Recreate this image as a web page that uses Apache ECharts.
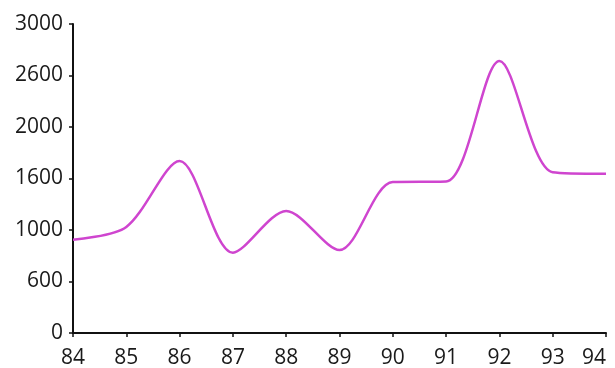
<!DOCTYPE html>
<html>
<head>
<meta charset="utf-8">
<script src="https://cdn.jsdelivr.net/npm/echarts@6/dist/echarts.min.js"></script>
<style>
  html, body { margin: 0; padding: 0; background: #fff; }
  #main { width: 615px; height: 368px; }
</style>
</head>
<body>
<div id="main"></div>
<script>
// years on the x axis
const years = [84, 85, 86, 87, 88, 89, 90, 91, 92, 93, 94]
// values
const values = [905, 1030, 1670, 780, 1185, 805, 1465, 1470, 2640, 1560, 1545]
// printed y tick labels (evenly spaced in the source)
const yLabels = ['0', '600', '1000', '1600', '2000', '2600', '3000']

const chart = echarts.init(document.getElementById('main'))

const axisFont = {
    fontFamily: 'Open Sans',
    fontSize: 21,
    color: '#1a1a1a'
}

chart.setOption({
    animation: false,
    grid: { left: 73, right: 9, top: 24, bottom: 35, outerBoundsMode: 'none' },
    xAxis: {
        type: 'value',
        min: 84,
        max: 94,
        interval: 1,
        axisLine: { lineStyle: { color: '#111', width: 2 } },
        axisTick: { length: 4, lineStyle: { color: '#111', width: 1.5 } },
        axisLabel: Object.assign({ margin: 15, alignMaxLabel: 'right' }, axisFont),
        splitLine: { show: false }
    },
    yAxis: {
        type: 'value',
        min: 0,
        max: 3000,
        interval: 500,
        axisLine: { show: true, lineStyle: { color: '#111', width: 2 } },
        axisTick: { show: true, length: 4, lineStyle: { color: '#111', width: 1.5 } },
        axisLabel: Object.assign({
            margin: 10,
            formatter: (v) => yLabels[Math.round(v / 500)]
        }, axisFont),
        splitLine: { show: false }
    },
    series: [
        {
            type: 'line',
            data: years.map((y, i) => [y, values[i]]),
            smooth: 0.3,
            showSymbol: false,
            lineStyle: { color: '#cf45cf', width: 2.5 }
        }
    ]
})
</script>
</body>
</html>
